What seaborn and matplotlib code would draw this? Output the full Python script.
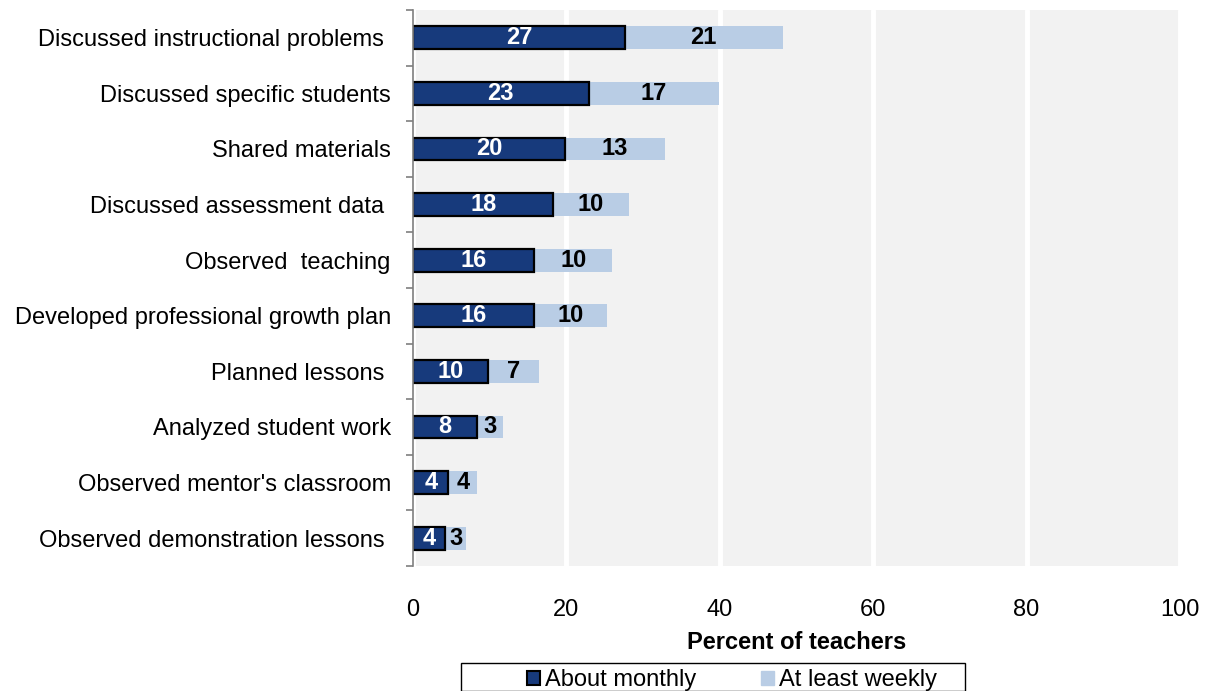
import matplotlib
matplotlib.use("Agg")
import matplotlib.pyplot as plt
from matplotlib.patches import Rectangle, Patch
import numpy as np
import pandas as pd
import seaborn as sns

# activities, top to bottom
activities = [
    "Discussed instructional problems ",
    "Discussed specific students",
    "Shared materials",
    "Discussed assessment data ",
    "Observed  teaching",
    "Developed professional growth plan",
    "Planned lessons ",
    "Analyzed student work",
    "Observed mentor's classroom",
    "Observed demonstration lessons ",
]
# percent of teachers
monthly = [27.6, 22.9, 19.8, 18.3, 15.8, 15.8, 9.8, 8.3, 4.6, 4.2]
weekly = [20.6, 17.0, 13.0, 9.8, 10.2, 9.5, 6.6, 3.4, 3.8, 2.7]
monthly_lbl = [27, 23, 20, 18, 16, 16, 10, 8, 4, 4]
weekly_lbl = [21, 17, 13, 10, 10, 10, 7, 3, 4, 3]

DARK = "#173a7c"
LIGHT = "#b9cde5"
FS = 17

df = pd.DataFrame({"activity": activities, "monthly": monthly, "weekly": weekly})
df["total"] = df["monthly"] + df["weekly"]

sns.set_theme(style="darkgrid", rc={
    "axes.facecolor": "#f2f2f2",
    "grid.color": "white",
    "grid.linewidth": 3.5,
    "text.color": "black",
    "axes.labelcolor": "black",
})
plt.rcParams["font.family"] = ["Liberation Sans", "DejaVu Sans"]

fig = plt.figure(figsize=(12.12, 6.91), dpi=100)
ax = fig.add_axes([0.3408, 0.181, 0.6328, 0.8045])

# light (total) first, dark monthly on top
sns.barplot(data=df, x="total", y="activity", color=LIGHT, width=0.41,
            saturation=1, linewidth=0, ax=ax)
sns.barplot(data=df, x="monthly", y="activity", color=DARK, width=0.41,
            saturation=1, edgecolor="black", linewidth=1.6, ax=ax)

for i in range(len(df)):
    m = df["monthly"][i]
    t = df["total"][i]
    ax.text(m / 2, i, str(monthly_lbl[i]), ha="center", va="center",
            color="white", fontsize=FS, fontweight="bold")
    ax.text((m + t) / 2, i, str(weekly_lbl[i]), ha="center", va="center",
            color="black", fontsize=FS, fontweight="bold")

ax.set_xlim(0, 100)
ax.set_ylim(len(df) - 0.5, -0.5)
ax.set_xticks([0, 20, 40, 60, 80, 100])
ax.grid(axis="y", visible=False)
ax.grid(axis="x", visible=True)
ax.set_axisbelow(True)

ax.set_yticks(np.arange(-0.5, len(df), 1.0), minor=True)
ax.tick_params(axis="y", which="major", length=0, pad=16, labelsize=FS, labelcolor="black")
ax.tick_params(axis="y", which="minor", left=True, length=5, width=1.2, color="#7f7f7f")
ax.tick_params(axis="x", length=0, pad=24, labelsize=FS, labelcolor="black")

for s in ["top", "right", "bottom"]:
    ax.spines[s].set_visible(False)
ax.spines["left"].set_visible(True)
ax.spines["left"].set_color("#7f7f7f")
ax.spines["left"].set_linewidth(1.2)

ax.set_ylabel("")
ax.set_xlabel("Percent of teachers", fontsize=FS, fontweight="bold",
              labelpad=7, color="black")

# legend with its own frame
fig.patches.append(Rectangle((461 / 1212, 0.0), 504 / 1212, 1 - 663 / 691,
                             transform=fig.transFigure, fill=False,
                             edgecolor="black", linewidth=1.0))
handles = [Patch(facecolor=DARK, edgecolor="black", linewidth=1.5),
           Patch(facecolor=LIGHT, edgecolor=LIGHT)]
fig.legend(handles, ["About monthly", "At least weekly"], loc="center",
           bbox_to_anchor=(732 / 1212, 1 - 680 / 691), ncol=2, frameon=False,
           fontsize=FS, handlelength=0.55, handleheight=0.55, handletextpad=0.2,
           columnspacing=2.75, borderpad=0)

fig.savefig("out.png", dpi=100)
